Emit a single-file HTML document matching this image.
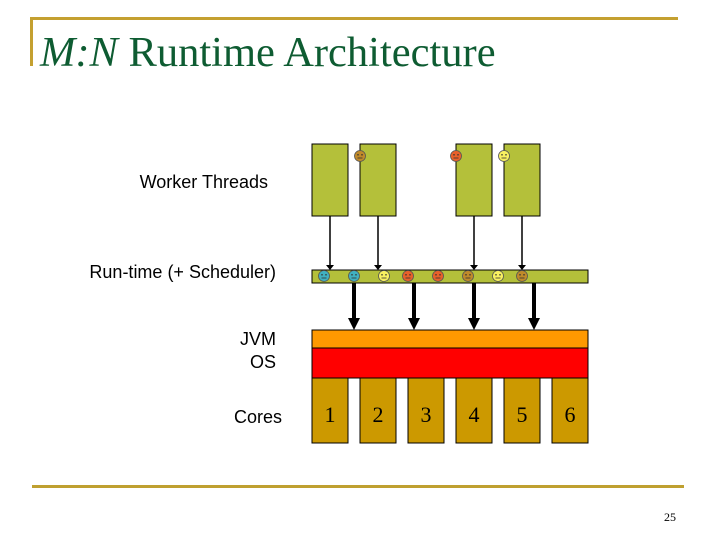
<!DOCTYPE html>
<html><head><meta charset="utf-8"><style>
html,body{margin:0;padding:0;background:#fff;}
svg{display:block;}
</style></head><body>
<svg width="720" height="540" viewBox="0 0 720 540" xmlns="http://www.w3.org/2000/svg">
<defs>
<g id="sm"><circle r="5.5" stroke="#555" stroke-width="0.8"/><circle cx="-2" cy="-1.2" r="0.8" fill="#333"/><circle cx="2" cy="-1.2" r="0.8" fill="#333"/><path d="M-2.5 2 L2.5 2" stroke="#333" stroke-width="0.8"/></g>
</defs>
<rect x="30" y="17" width="648" height="3" fill="#c4a030"/>
<rect x="30" y="17" width="3" height="49" fill="#c4a030"/>
<rect x="32" y="485" width="652" height="3" fill="#bfa030"/>
<text x="40" y="66" font-family="Liberation Serif, serif" font-size="42.5" fill="#0e5c32"><tspan font-style="italic">M:N</tspan> Runtime Architecture</text>
<text x="670" y="521" font-family="Liberation Serif, serif" font-size="12" text-anchor="middle">25</text>
<g font-family="Liberation Sans, sans-serif" font-size="18" fill="#000">
<text x="268" y="188" text-anchor="end">Worker Threads</text>
<text x="276" y="278" text-anchor="end">Run-time (+ Scheduler)</text>
<text x="276" y="345" text-anchor="end">JVM</text>
<text x="276" y="368" text-anchor="end">OS</text>
<text x="282" y="423" text-anchor="end">Cores</text>
</g>
<g fill="#b4c03a" stroke="#000" stroke-width="1">
<rect x="312" y="144" width="36" height="72"/>
<rect x="360" y="144" width="36" height="72"/>
<rect x="456" y="144" width="36" height="72"/>
<rect x="504" y="144" width="36" height="72"/>
<rect x="312" y="270" width="276" height="13"/>
</g>
<use href="#sm" x="360" y="156" fill="#c08a2a"/>
<use href="#sm" x="456" y="156" fill="#e8602a"/>
<use href="#sm" x="504" y="156" fill="#f8f060"/>
<g stroke="#000" stroke-width="1.5">
<line x1="330" y1="216" x2="330" y2="266"/><line x1="378" y1="216" x2="378" y2="266"/>
<line x1="474" y1="216" x2="474" y2="266"/><line x1="522" y1="216" x2="522" y2="266"/>
</g>
<g fill="#000">
<path d="M326 265h8l-4 5z"/><path d="M374 265h8l-4 5z"/><path d="M470 265h8l-4 5z"/><path d="M518 265h8l-4 5z"/>
<rect x="352" y="283" width="4" height="37"/><rect x="412" y="283" width="4" height="37"/><rect x="472" y="283" width="4" height="37"/><rect x="532" y="283" width="4" height="37"/>
<path d="M348 318h12l-6 12z"/><path d="M408 318h12l-6 12z"/><path d="M468 318h12l-6 12z"/><path d="M528 318h12l-6 12z"/>
</g>
<use href="#sm" x="324" y="276" fill="#40b0c0"/>
<use href="#sm" x="354" y="276" fill="#40b0c0"/>
<use href="#sm" x="384" y="276" fill="#f8f060"/>
<use href="#sm" x="408" y="276" fill="#e8602a"/>
<use href="#sm" x="438" y="276" fill="#e8602a"/>
<use href="#sm" x="468" y="276" fill="#c08a2a"/>
<use href="#sm" x="498" y="276" fill="#f8f060"/>
<use href="#sm" x="522" y="276" fill="#c08a2a"/>
<rect x="312" y="330" width="276" height="18" fill="#ff9900" stroke="#000" stroke-width="1"/>
<rect x="312" y="348" width="276" height="30" fill="#ff0000" stroke="#000" stroke-width="1"/>
<g fill="#cc9900" stroke="#000" stroke-width="1">
<rect x="312" y="378" width="36" height="65"/><rect x="360" y="378" width="36" height="65"/>
<rect x="408" y="378" width="36" height="65"/><rect x="456" y="378" width="36" height="65"/>
<rect x="504" y="378" width="36" height="65"/><rect x="552" y="378" width="36" height="65"/>
</g>
<g font-family="Liberation Serif, serif" font-size="22" text-anchor="middle" fill="#000">
<text x="330" y="422">1</text><text x="378" y="422">2</text><text x="426" y="422">3</text>
<text x="474" y="422">4</text><text x="522" y="422">5</text><text x="570" y="422">6</text>
</g>
</svg>
</body></html>
